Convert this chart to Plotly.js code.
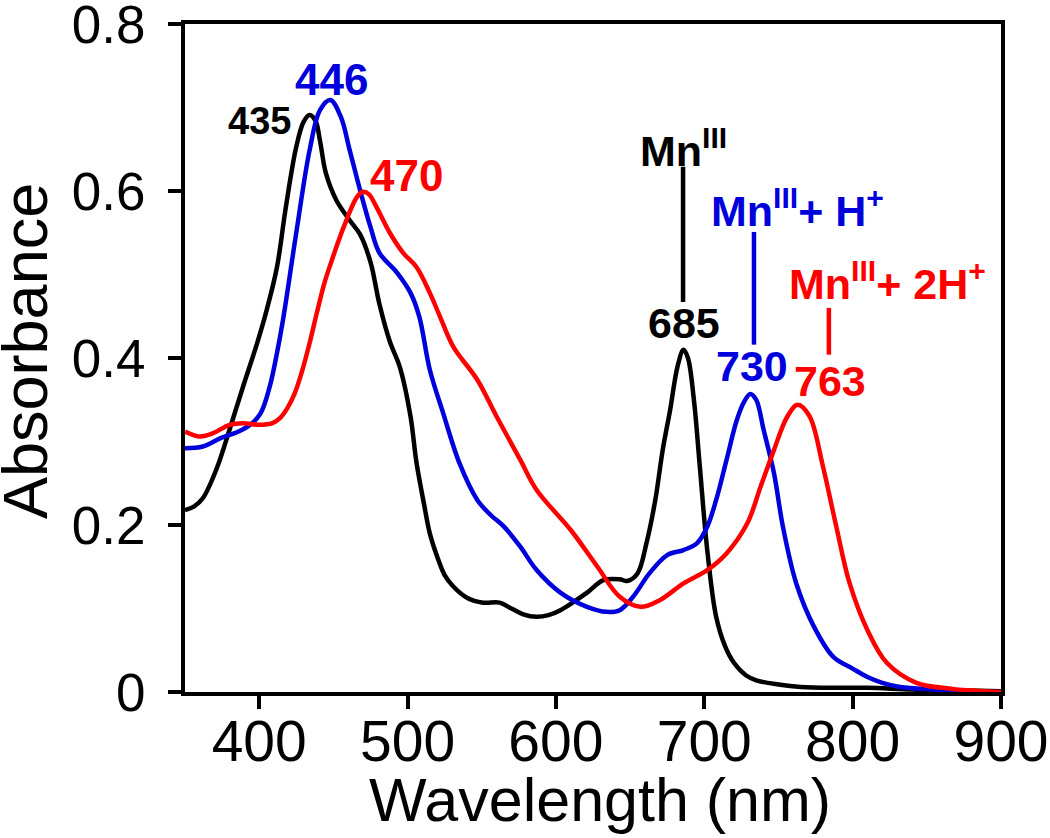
<!DOCTYPE html>
<html>
<head>
<meta charset="utf-8">
<script src="https://cdn.plot.ly/plotly-3.0.1.min.js"></script>
<style>html,body{margin:0;padding:0;background:#fff;}#chart{width:1050px;height:838px;}</style>
</head>
<body>
<div id="chart"></div>
<script>
// Mn(III) spectrum (black)
const wlMn = [350,356,362,371,380,389,399,405,412,418,425,430,434,438,441,445,452,461,468,475,481,488,495,502,506,511,515,520,525,531,540,551,562,570,578,587,595,603,612,621,632,643,648,655,661,667,672,677,682,686,689,693,697,702,708,714,720,728,735,750,765,790,810,840,870,900];
const absMn = [0.218,0.222,0.232,0.266,0.314,0.365,0.42,0.457,0.509,0.581,0.653,0.683,0.691,0.684,0.66,0.621,0.589,0.565,0.548,0.515,0.465,0.42,0.388,0.33,0.275,0.226,0.19,0.162,0.14,0.126,0.113,0.107,0.107,0.1,0.093,0.09,0.092,0.098,0.108,0.119,0.134,0.135,0.133,0.142,0.178,0.23,0.29,0.338,0.39,0.41,0.4,0.35,0.27,0.17,0.09,0.055,0.035,0.02,0.014,0.009,0.006,0.005,0.005,0.003,0.002,0.001];

// Mn(III) + H+ spectrum (blue)
const wlMnH = [350,362,374,385,394,401,407,412,416,425,434,441,448,455,461,468,475,481,493,502,508,515,524,535,547,556,565,576,587,603,621,634,643,652,663,675,686,695,702,708,715,722,727,731,735,740,747,753,762,774,787,800,810,820,832,854,880,900];
const absMnH = [0.292,0.294,0.304,0.311,0.32,0.334,0.365,0.406,0.445,0.55,0.649,0.697,0.709,0.689,0.649,0.601,0.557,0.526,0.502,0.478,0.449,0.386,0.334,0.274,0.23,0.212,0.198,0.174,0.146,0.119,0.102,0.096,0.098,0.114,0.142,0.164,0.17,0.178,0.198,0.23,0.278,0.326,0.348,0.357,0.35,0.314,0.262,0.198,0.13,0.078,0.042,0.028,0.018,0.011,0.006,0.003,0.001,0.0];

// Mn(III) + 2H+ spectrum (red)
const wlMn2H = [350,360,369,380,389,400,409,414,419,424,429,434,439,444,448,457,466,470,474,479,488,497,506,515,522,531,547,560,576,587,610,628,643,657,670,686,702,715,729,738,747,756,763,771,780,789,798,810,823,843,866,877,900];
const absMn2H = [0.312,0.306,0.31,0.32,0.322,0.32,0.322,0.328,0.34,0.358,0.385,0.418,0.455,0.49,0.512,0.557,0.593,0.599,0.596,0.581,0.55,0.526,0.509,0.478,0.449,0.413,0.374,0.33,0.278,0.242,0.194,0.15,0.114,0.102,0.11,0.13,0.146,0.166,0.202,0.246,0.29,0.33,0.344,0.33,0.27,0.198,0.13,0.074,0.035,0.011,0.004,0.002,0.0];

// tick labels
const xTicks = [400,500,600,700,800,900];
const yTicks = [0,0.2,0.4,0.6,0.8];
const yTickText = ["0","0.2","0.4","0.6","0.8"];
const xTitle = "Wavelength (nm)";
const yTitle = "Absorbance";

// peak labels
const peakText = ["435","446","470","685","730","763"];
const peakX = [400,448.6,499,686,732,785];
const peakY = [0.684,0.734,0.618,0.442,0.39,0.372];
const peakColor = ["#000000","#0000dd","#ff0000","#000000","#0000dd","#ff0000"];
const peakSize = [38,44,44,43,43,43];

// species labels and leader lines
const specText = ["Mn<sup>III</sup>","Mn<sup>III</sup>+ H<sup>+</sup>","Mn<sup>III</sup>+ 2H<sup>+</sup>"];
const specX = [655,703.4,756];
const specY = [0.651,0.58,0.492];
const specColor = ["#000000","#0000dd","#ff0000"];
const leadX = [685.7,733.5,784];
const leadY0 = [0.467,0.416,0.404];
const leadY1 = [0.629,0.551,0.46];

const FONT = 'Liberation Sans, Arial, sans-serif';

const traces = [
  {x: wlMn, y: absMn, mode: 'lines', line: {color: '#000000', width: 4.5, shape: 'spline', smoothing: 1}, name: 'Mn(III)'},
  {x: wlMnH, y: absMnH, mode: 'lines', line: {color: '#0000dd', width: 4.5, shape: 'spline', smoothing: 1}, name: 'Mn(III)+H+'},
  {x: wlMn2H, y: absMn2H, mode: 'lines', line: {color: '#ff0000', width: 4.5, shape: 'spline', smoothing: 1}, name: 'Mn(III)+2H+'}
];

const annotations = [];
for (let i = 0; i < peakText.length; i++) {
  annotations.push({x: peakX[i], y: peakY[i], xref: 'x', yref: 'y', text: '<b>' + peakText[i] + '</b>',
    showarrow: false, xanchor: 'center', yanchor: 'middle',
    font: {family: FONT, size: peakSize[i], color: peakColor[i]}});
}
for (let i = 0; i < specText.length; i++) {
  annotations.push({x: specX[i], y: specY[i], xref: 'x', yref: 'y', text: '<b>' + specText[i] + '</b>',
    showarrow: false, xanchor: 'left', yanchor: 'middle',
    font: {family: FONT, size: 43, color: specColor[i]}});
}
// axis titles
annotations.push({x: 0, y: 0.5, xref: 'paper', yref: 'paper', xshift: -160, yshift: 7, textangle: -90,
  text: yTitle, showarrow: false, xanchor: 'center', yanchor: 'middle',
  font: {family: FONT, size: 63, color: '#000'}});
annotations.push({x: 0.5, y: 0, xref: 'paper', yref: 'paper', xshift: 7, yshift: -108,
  text: xTitle, showarrow: false, xanchor: 'center', yanchor: 'middle',
  font: {family: FONT, size: 61, color: '#000'}});

const shapes = [];
for (let i = 0; i < leadX.length; i++) {
  shapes.push({type: 'line', xref: 'x', yref: 'y', x0: leadX[i], x1: leadX[i], y0: leadY0[i], y1: leadY1[i],
    line: {color: specColor[i], width: 4.5}});
}

const layout = {
  width: 1050, height: 838,
  margin: {l: 185, r: 49, t: 24, b: 146},
  paper_bgcolor: '#ffffff', plot_bgcolor: '#ffffff',
  showlegend: false,
  font: {family: FONT, color: '#000000'},
  xaxis: {
    range: [350, 900], tickvals: xTicks, ticktext: xTicks.map(String),
    showgrid: false, zeroline: false, showline: true, mirror: true, linecolor: '#000', linewidth: 4,
    ticks: 'outside', ticklen: 13, tickwidth: 4, tickcolor: '#000',
    tickfont: {size: 57, family: FONT},
    ticklabelstandoff: -16, ticklabeloverflow: 'allow'
  },
  yaxis: {
    range: [0, 0.80001], tickvals: yTicks, ticktext: yTickText,
    showgrid: false, zeroline: false, showline: true, mirror: true, linecolor: '#000', linewidth: 4,
    ticks: 'outside', ticklen: 13, tickwidth: 4, tickcolor: '#000',
    tickfont: {size: 53, family: FONT},
    ticklabelstandoff: 12, ticklabeloverflow: 'allow'
  },
  annotations: annotations,
  shapes: shapes
};

Plotly.newPlot('chart', traces, layout, {displayModeBar: false, staticPlot: true});
</script>
</body>
</html>
